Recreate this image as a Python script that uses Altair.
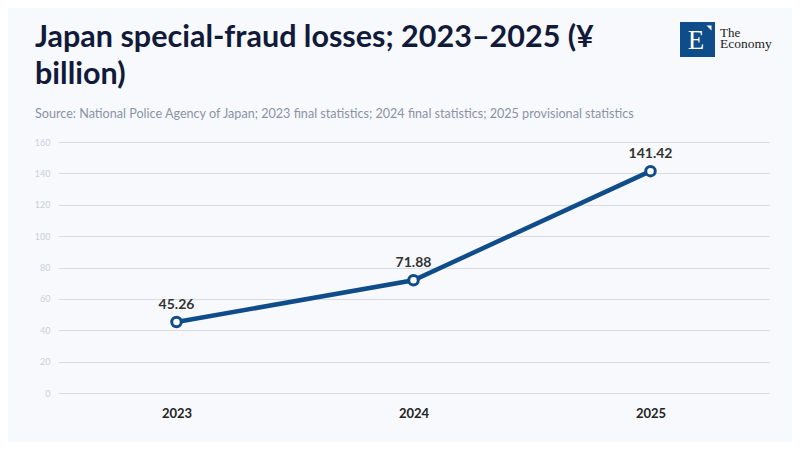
import altair as alt
import pandas as pd

years = ["2023", "2024", "2025"]
losses = [45.26, 71.88, 141.42]
labels = ["45.26", "71.88", "141.42"]
y_ticks = [0, 20, 40, 60, 80, 100, 120, 140, 160]

title_line1 = "Japan special-fraud losses; 2023\u20132025 (\u00a5"
title_line2 = "billion)"
subtitle = "Source: National Police Agency of Japan; 2023 final statistics; 2024 final statistics; 2025 provisional statistics"

df = pd.DataFrame({"year": years, "value": losses, "label": labels})

LINE = "#0f4c8a"
FONT = "Lato"

base = alt.Chart(df).encode(
    x=alt.X("year:N", sort=years, scale=alt.Scale(type="point", padding=0.5),
            axis=alt.Axis(title=None, labelAngle=0, labelFont=FONT, labelFontWeight="bold",
                          labelFontSize=13, labelColor="#222222", ticks=False, domain=False,
                          labelPadding=14, grid=False)),
    y=alt.Y("value:Q", scale=alt.Scale(domain=[0, 160], nice=False),
            axis=alt.Axis(title=None, values=y_ticks, labelFont=FONT, labelFontSize=9,
                          labelColor="#c9cfdc", ticks=False, domain=False, labelPadding=8,
                          gridColor="#d6dbe6", gridWidth=1)),
)

line = base.mark_line(color=LINE, strokeWidth=4.5)
points = base.mark_point(filled=True, fill="white", stroke=LINE, strokeWidth=3, size=90, opacity=1)
text = base.mark_text(dy=-17, font=FONT, fontWeight="bold", fontSize=14, color="#333333").encode(text="label:N")

one = pd.DataFrame({"k": [0]})

def txt(s, x, y, **kw):
    return alt.Chart(one).mark_text(text=s, align="left", baseline="alphabetic", **kw).encode(
        x=alt.value(x), y=alt.value(y))

t1 = txt(title_line1, -23, -95, font=FONT, fontSize=30.5, fontWeight="bold", color="#121a3a")
t2 = txt(title_line2, -23, -58, font=FONT, fontSize=30.5, fontWeight="bold", color="#121a3a")
st = txt(subtitle, -23, -24, font=FONT, fontSize=12.6, color="#8a93a6")

logo_box = alt.Chart(one).mark_rect(color="#0f4c8a").encode(
    x=alt.value(622), x2=alt.value(657), y=alt.value(-120), y2=alt.value(-85))
logo_e = alt.Chart(one).mark_text(text="E", font="Liberation Serif", fontSize=27, color="white",
                                  align="center", baseline="alphabetic").encode(
    x=alt.value(638), y=alt.value(-93))
logo_tri = alt.Chart(one).mark_point(shape="M-1,-1 L1,-1 L1,1 Z", filled=True, fill="white",
                                     size=25, opacity=1).encode(
    x=alt.value(651), y=alt.value(-114))
logo_the = txt("The", 662, -105, font="Liberation Serif", fontSize=13, color="#222222")
logo_eco = txt("Economy", 662, -94, font="Liberation Serif", fontSize=13.5, color="#222222")

chart = alt.layer(line, points, text, t1, t2, st, logo_box, logo_e, logo_tri, logo_the, logo_eco).properties(
    width=711, height=251,
    autosize=alt.AutoSizeParams(type="none"),
    padding={"left": 50, "top": 134, "right": 23, "bottom": 49},
    background="#f8f9fd",
).configure_view(stroke=None)

chart.save("out.html", embed_options={"renderer": "svg", "actions": False})
